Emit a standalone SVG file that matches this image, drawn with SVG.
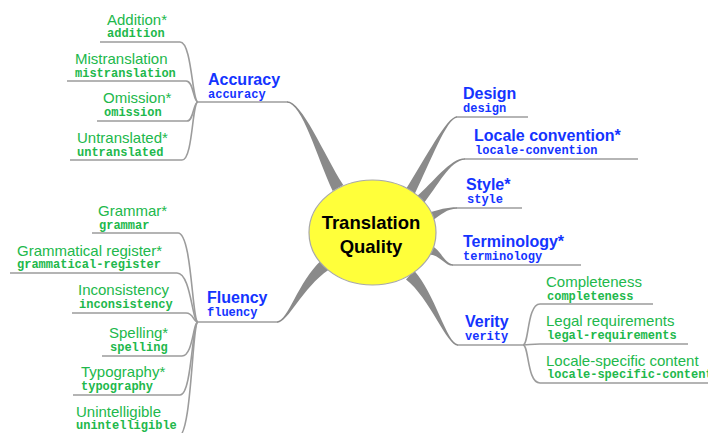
<svg xmlns="http://www.w3.org/2000/svg" width="708" height="433" viewBox="0 0 708 433">
<style>
.br{fill:#8a8a8a;stroke:none}
.ln{fill:none;stroke:#9c9c9c;stroke-width:1.6}
.t1{font-family:"Liberation Sans",Arial,sans-serif;font-weight:bold;font-size:16px;fill:#1434ff}
.m1{font-family:"Liberation Mono","Courier New",monospace;font-weight:bold;font-size:12px;fill:#1434ff}
.t2{font-family:"Liberation Sans",Arial,sans-serif;font-size:15px;fill:#21b84b}
.m2{font-family:"Liberation Mono","Courier New",monospace;font-weight:bold;font-size:12px;fill:#21b84b}
.ct{font-family:"Liberation Sans",Arial,sans-serif;font-weight:bold;font-size:18.5px;fill:#000;text-anchor:middle}
</style>
<rect width="708" height="433" fill="#fff"/>
<g id="connectors">
  <path class="br" d="M 332.7,190.9 C 316.8,156.7 302,102.8 287,102.8 L 287,101.2 C 302,101.2 323.2,153.3 343.3,185.1 Z"/>
  <path class="br" d="M 414.4,194.5 C 430.6,161.5 447,117.8 457,117.8 L 457,116.2 C 447,116.2 425.4,158.5 405.6,189.6 Z"/>
  <path class="br" d="M 423.5,203.5 C 437.1,187.1 450,159.8 465,159.8 L 465,158.2 C 450,158.2 432.9,182.9 416.5,196.5 Z"/>
  <path class="br" d="M 432,221 C 441.2,214.4 447,208.8 457,208.8 L 457,207.2 C 447,207.2 438.8,209.6 428,213 Z"/>
  <path class="br" d="M 429.1,254.4 C 439.5,254.6 445,265.8 453,265.8 L 453,264.2 C 445,264.2 440.5,249.4 430.9,245.6 Z"/>
  <path class="br" d="M 406,279.4 C 429.6,297.6 447,345.8 458,345.8 L 458,344.2 C 447,344.2 434.4,292.4 414,270.6 Z"/>
  <path class="br" d="M 328.7,269.7 C 302.2,287.8 288,322.8 277,322.8 L 277,321.2 C 288,321.2 297.8,282.2 321.3,260.3 Z"/>
  <path class="ln" d="M 198,102 H 288"/>
  <path class="ln" d="M 198,322 H 278"/>
  <path class="ln" d="M 456,117 H 528"/>
  <path class="ln" d="M 464,159 H 638"/>
  <path class="ln" d="M 456,208 H 522"/>
  <path class="ln" d="M 452,265 H 581"/>
  <path class="ln" d="M 457,345 H 523"/>
  <path class="ln" d="M 100,42 H 180 C 192,42 192,102 198,102"/>
  <path class="ln" d="M 67,81 H 186 C 194,81 193,102 198,102"/>
  <path class="ln" d="M 97,121 H 187 C 194,121 193,102 198,102"/>
  <path class="ln" d="M 70,160 H 182 C 193,160 192,102 198,102"/>
  <path class="ln" d="M 92,233 H 178 C 192,233 192,322 198,322"/>
  <path class="ln" d="M 10,273 H 177 C 191,273 192,322 198,322"/>
  <path class="ln" d="M 72,313 H 186 C 194,313 193,322 198,322"/>
  <path class="ln" d="M 102,356 H 182 C 193,356 193,322 198,322"/>
  <path class="ln" d="M 73,395 H 180 C 192,395 192,322 198,322"/>
  <path class="ln" d="M 73,437 H 178 C 192,437 192,322 198,322"/>
  <path class="ln" d="M 523,345 C 529,345 527,304 540,304 H 653"/>
  <path class="ln" d="M 523,345 C 530,345 530,344 540,344 H 688"/>
  <path class="ln" d="M 523,345 C 529,345 527,383 540,383 H 710"/>
</g>
<g id="center">
  <ellipse cx="372.5" cy="232.5" rx="63.5" ry="52.5" fill="#ffff3a" stroke="#a8a8a8" stroke-width="1.2"/>
  <text class="ct" x="371" y="229">Translation</text>
  <text class="ct" x="371" y="253">Quality</text>
</g>
<g id="accuracy"><text class="t1" x="208" y="85">Accuracy</text><text class="m1" x="208" y="98">accuracy</text></g>
<g id="addition"><text class="t2" x="107" y="25">Addition*</text><text class="m2" x="107" y="37">addition</text></g>
<g id="mistranslation"><text class="t2" x="75" y="64">Mistranslation</text><text class="m2" x="75" y="77">mistranslation</text></g>
<g id="omission"><text class="t2" x="103" y="103">Omission*</text><text class="m2" x="104" y="116">omission</text></g>
<g id="untranslated"><text class="t2" x="77" y="143">Untranslated*</text><text class="m2" x="77" y="156">untranslated</text></g>
<g id="fluency"><text class="t1" x="207" y="303">Fluency</text><text class="m1" x="207" y="316">fluency</text></g>
<g id="grammar"><text class="t2" x="98" y="216">Grammar*</text><text class="m2" x="99" y="229">grammar</text></g>
<g id="grammatical-register"><text class="t2" x="17" y="256">Grammatical register*</text><text class="m2" x="17" y="268">grammatical-register</text></g>
<g id="inconsistency"><text class="t2" x="78" y="295">Inconsistency</text><text class="m2" x="79" y="308">inconsistency</text></g>
<g id="spelling"><text class="t2" x="109" y="338">Spelling*</text><text class="m2" x="110" y="351">spelling</text></g>
<g id="typography"><text class="t2" x="81" y="377">Typography*</text><text class="m2" x="81" y="390">typography</text></g>
<g id="unintelligible"><text class="t2" x="76" y="417">Unintelligible</text><text class="m2" x="76" y="429">unintelligible</text></g>
<g id="design"><text class="t1" x="463" y="99">Design</text><text class="m1" x="463" y="112">design</text></g>
<g id="locale-convention"><text class="t1" x="474" y="141">Locale convention*</text><text class="m1" x="475" y="154">locale-convention</text></g>
<g id="style"><text class="t1" x="466" y="190">Style*</text><text class="m1" x="467" y="203">style</text></g>
<g id="terminology"><text class="t1" x="463" y="247">Terminology*</text><text class="m1" x="463" y="260">terminology</text></g>
<g id="verity"><text class="t1" x="465" y="327">Verity</text><text class="m1" x="465" y="340">verity</text></g>
<g id="completeness"><text class="t2" x="546" y="287">Completeness</text><text class="m2" x="547" y="300">completeness</text></g>
<g id="legal-requirements"><text class="t2" x="546" y="326">Legal requirements</text><text class="m2" x="547" y="339">legal-requirements</text></g>
<g id="locale-specific-content"><text class="t2" x="546" y="366">Locale-specific content</text><text class="m2" x="547" y="378">locale-specific-content</text></g>
</svg>
